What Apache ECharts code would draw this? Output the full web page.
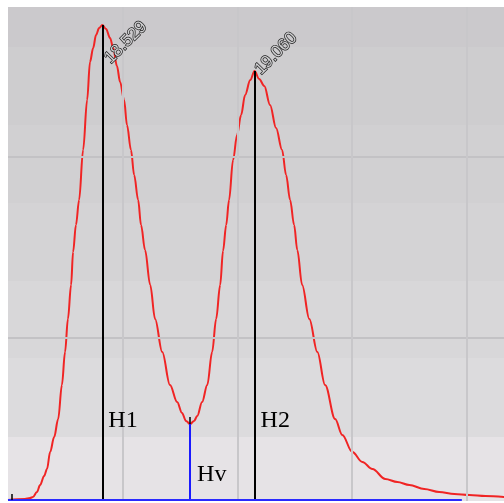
<!DOCTYPE html>
<html>
<head>
<meta charset="utf-8">
<script src="https://cdn.jsdelivr.net/npm/echarts@6/dist/echarts.min.js"></script>
<style>html,body{margin:0;padding:0;background:#fff}#c{width:504px;height:503px}</style>
</head>
<body>
<div id="c"></div>
<script>
// ---- data ----
const times = [18.200,18.259,18.277,18.287,18.301,18.312,18.326,18.336,18.347,18.361,18.375,18.388,18.399,18.409,18.420,18.427,18.437,18.448,18.462,18.476,18.486,18.497,18.507,18.518,18.529,18.542,18.556,18.567,18.580,18.591,18.605,18.615,18.629,18.640,18.654,18.664,18.678,18.696,18.713,18.738,18.765,18.790,18.807,18.821,18.835,18.849,18.860,18.877,18.895,18.912,18.926,18.940,18.950,18.961,18.971,18.985,18.999,19.013,19.027,19.045,19.060,19.076,19.094,19.114,19.135,19.156,19.170,19.184,19.198,19.209,19.226,19.251,19.279,19.306,19.341,19.366,19.401,19.436,19.471,19.516,19.558,19.600,19.652,19.704,19.757,19.809,19.865,19.931];
const signal = [0,1,2,3,8,15,24,31,48,63,81,115,148,181,215,248,275,300,350,400,438,452,465,472,475,471,462,452,434,418,400,375,350,325,300,275,250,215,181,148,115,98,87,79,76,79,84,98,115,148,181,215,249,275,300,340,365,385,405,420,429,421,414,395,372,350,325,300,275,250,215,181,148,115,81,65,48,38,31,21,18,15,11,8,6,5,4,3];
const peakTimes = [18.529, 19.060];
const peakHeights = [475, 429];
const peakNames = ['H1', 'H2'];
const valleyTime = 18.835;
const valleyHeight = 76;
const valleyName = 'Hv';
const baselineStart = 18.200;
const baselineEnd = 19.783;
const startMarkTime = 18.214;
const bandEdges = [-1, 63, 142, 219, 297, 375, 453, 493];
const hGridValues = [162, 343];
const xGridValues = [18.6, 19.0, 19.4, 19.8];

// ---- styles ----
const bandColors = ['#e6e3e6','#dcdbdd','#d8d7d9','#d4d3d5','#d1d0d2','#cecdcf','#cbc9cc'];
const peakLabelShift = [[5, 36], [3, 1]]; // screen-space shift of rotated peak labels
const labelRotate = 45;

const chart = echarts.init(document.getElementById('c'), null, {renderer: 'canvas'});
const curve = times.map((t, i) => [t, signal[i]]);

function rotatedOffset(s) {
  const a = labelRotate * Math.PI / 180;
  return [s[0] * Math.cos(a) - s[1] * Math.sin(a), s[0] * Math.sin(a) + s[1] * Math.cos(a)];
}

const bandAreas = [];
for (let i = 0; i < bandEdges.length - 1; i++) {
  bandAreas.push([{yAxis: bandEdges[i], itemStyle: {color: bandColors[i]}}, {yAxis: bandEdges[i + 1]}]);
}

const gridLines = hGridValues.map(v => ({yAxis: v, lineStyle: {color: '#c3c2c5', width: 2}}))
  .concat(xGridValues.map(v => ({xAxis: v, lineStyle: {color: '#c8c7ca', width: 2}})));

const vLines = [];
peakTimes.forEach((t, i) => {
  vLines.push([{coord: [t, peakHeights[i]], lineStyle: {color: '#000', width: 2}}, {coord: [t, 0]}]);
});
vLines.push([{coord: [valleyTime, valleyHeight], lineStyle: {color: '#1a1aff', width: 2}}, {coord: [valleyTime, 0]}]);
vLines.push([{coord: [valleyTime, valleyHeight + 7], lineStyle: {color: '#000', width: 1.5}}, {coord: [valleyTime, valleyHeight]}]);
vLines.push([{coord: [baselineStart, 0], lineStyle: {color: '#2a2aff', width: 2}}, {coord: [baselineEnd, 0]}]);
vLines.push([{coord: [startMarkTime, 6], lineStyle: {color: '#000', width: 1.5}}, {coord: [startMarkTime, 0]}]);

const nameFont = {fontFamily: 'Liberation Serif', fontSize: 24, color: '#000'};
const namePoints = peakTimes.map((t, i) => ({
  coord: [t, 79], label: Object.assign({show: true, formatter: peakNames[i], position: 'inside', align: 'left', verticalAlign: 'middle', offset: [6, 0]}, nameFont)
}));
namePoints.push({coord: [valleyTime, 25], label: Object.assign({show: true, formatter: valleyName, position: 'inside', align: 'left', verticalAlign: 'middle', offset: [7, 0]}, nameFont)});

const peakPoints = peakTimes.map((t, i) => ({
  coord: [t, peakHeights[i]],
  label: {show: true, formatter: t.toFixed(3), position: 'inside', rotate: labelRotate, align: 'left', verticalAlign: 'middle',
    offset: rotatedOffset(peakLabelShift[i]), fontFamily: 'Liberation Sans', fontSize: 17, color: '#cfcfd1', textBorderColor: '#1a1a1a', textBorderWidth: 1.4}
}));

const option = {
  animation: false,
  backgroundColor: '#ffffff',
  grid: {left: 8, right: 0, top: 7, bottom: 2, containLabel: false},
  xAxis: {
    type: 'value', min: 18.2, max: 19.93,
    axisLine: {show: false}, axisTick: {show: false}, axisLabel: {show: false},
    splitLine: {show: false}
  },
  yAxis: {
    type: 'value', min: -1, max: 493,
    axisLine: {show: false}, axisTick: {show: false}, axisLabel: {show: false},
    splitLine: {show: false}
  },
  series: [
    {
      type: 'line', z: -2, silent: true, data: [[18.2, 0]], showSymbol: false, lineStyle: {width: 0},
      markArea: {silent: true, data: bandAreas}
    },
    {
      type: 'line', z: -1, silent: true, data: [[18.2, 0]], showSymbol: false, lineStyle: {width: 0},
      markLine: {silent: true, symbol: 'none', label: {show: false}, lineStyle: {type: 'solid'}, data: gridLines}
    },
    {
      type: 'line', z: 3, silent: true, data: [[18.2, 0]], showSymbol: false, lineStyle: {width: 0},
      markLine: {silent: true, symbol: 'none', label: {show: false}, lineStyle: {type: 'solid'}, data: vLines},
      markPoint: {silent: true, symbol: 'circle', symbolSize: 0, data: namePoints}
    },
    {
      type: 'line', z: 4, data: curve, showSymbol: false, smooth: 0.35, smoothMonotone: 'x',
      lineStyle: {color: '#f02424', width: 2},
      markPoint: {silent: true, symbol: 'circle', symbolSize: 0, data: peakPoints}
    }
  ]
};
chart.setOption(option);
</script>
</body>
</html>
